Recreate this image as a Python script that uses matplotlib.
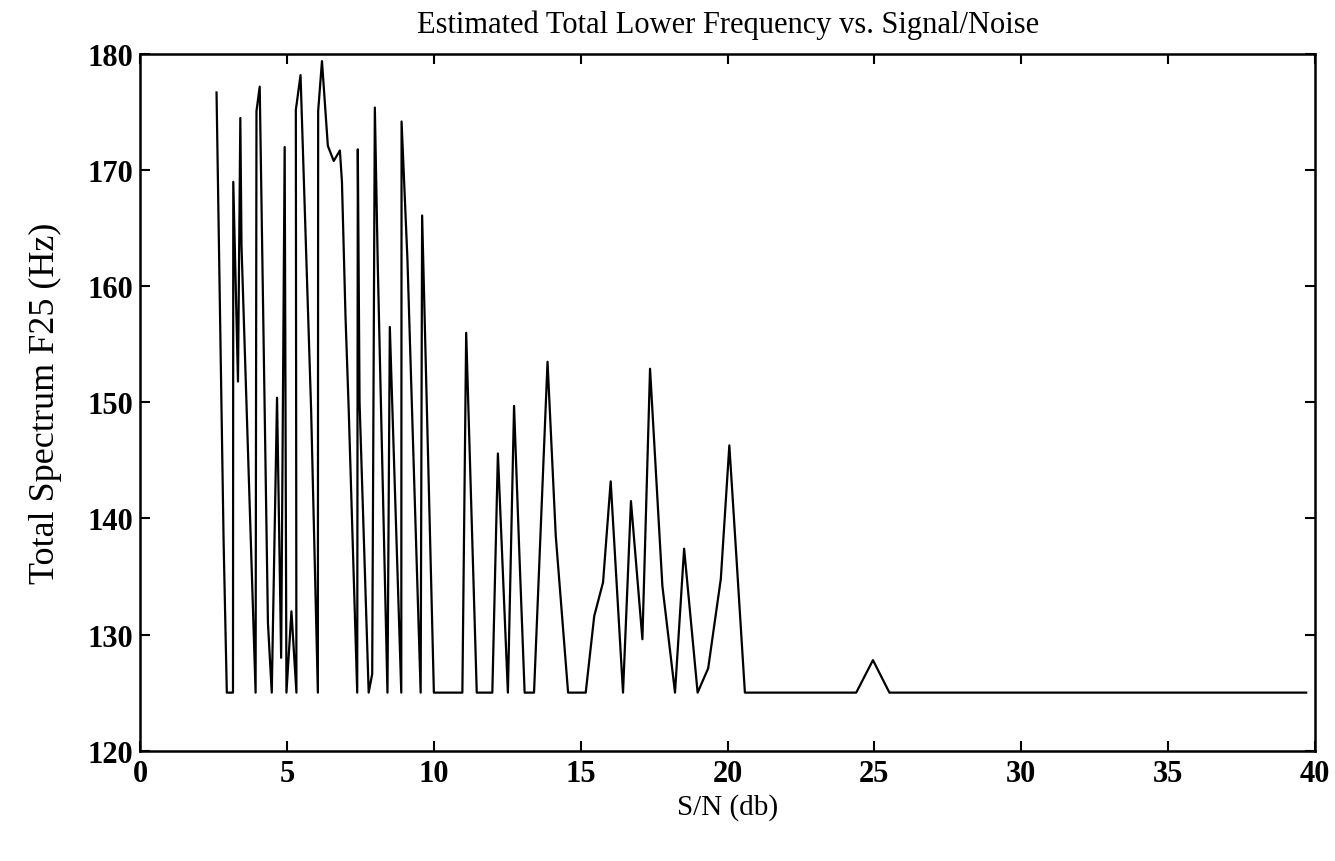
import matplotlib
matplotlib.use("Agg")
import matplotlib.pyplot as plt

# S/N (db) and estimated total lower frequency (Hz)
snr = [2.60, 2.84, 2.95, 3.16, 3.17, 3.33, 3.41, 3.45, 3.93,
       3.96, 4.07, 4.35, 4.48, 4.66, 4.80, 4.92, 4.98, 5.15, 5.32,
       5.30, 5.46, 5.82, 6.05, 6.06, 6.19, 6.39, 6.59, 6.80, 6.87,
       6.99, 7.10, 7.39, 7.41, 7.47, 7.78, 7.90, 7.99, 8.09, 8.42,
       8.50, 8.89, 8.90, 9.10, 9.55, 9.60, 10.00, 10.97, 11.10, 11.46,
       11.99, 12.18, 12.52, 12.73, 12.90, 13.09, 13.41, 13.87, 14.15, 14.57,
       15.17, 15.46, 15.76, 16.02, 16.44, 16.71, 17.10, 17.36, 17.78, 18.21,
       18.52, 18.98, 19.34, 19.77, 20.06, 20.29, 20.59, 24.38, 24.95, 25.51,
       39.70]
f25 = [176.7, 138.1, 125.0, 125.0, 169.0, 151.8, 174.5, 163.5, 125.0,
       175.1, 177.2, 131.0, 125.0, 150.4, 128.0, 172.0, 125.0, 132.0, 125.0,
       175.2, 178.2, 149.4, 125.0, 175.1, 179.4, 172.1, 170.8, 171.7, 169.0,
       157.5, 149.4, 125.0, 171.8, 150.0, 125.0, 126.6, 175.4, 161.8, 125.0,
       156.5, 125.0, 174.2, 162.3, 125.0, 166.1, 125.0, 125.0, 156.0, 125.0,
       125.0, 145.6, 125.0, 149.7, 137.7, 125.0, 125.0, 153.5, 138.5, 125.0,
       125.0, 131.6, 134.5, 143.2, 125.0, 141.5, 129.6, 152.9, 134.2, 125.0,
       137.4, 125.0, 127.1, 134.8, 146.3, 137.1, 125.0, 125.0, 127.8, 125.0,
       125.0]

xticks = [0, 5, 10, 15, 20, 25, 30, 35, 40]
yticks = [120, 130, 140, 150, 160, 170, 180]

plt.rcParams['font.family'] = ['Liberation Serif', 'DejaVu Serif']

fig = plt.figure(figsize=(13.35, 8.62), dpi=100)
ax = fig.add_axes([0.105, 0.128, 0.880, 0.808])

ax.plot(snr, f25, color='black', linewidth=1.6)

ax.set_xlim(0, 40)
ax.set_ylim(120, 180)
ax.set_xticks(xticks)
ax.set_yticks(yticks)
ax.tick_params(direction='in', top=True, right=True, length=7, width=1.5,
               labelsize=22)
ax.tick_params(axis='x', pad=6)
ax.tick_params(axis='y', pad=5)
for lab in ax.get_xticklabels() + ax.get_yticklabels():
    lab.set_fontweight('bold')
for s in ax.spines.values():
    s.set_linewidth(1.8)

ax.set_title('Estimated Total Lower Frequency vs. Signal/Noise', fontsize=22, pad=16)
ax.set_xlabel('S/N (db)', fontsize=21, labelpad=4)
ax.set_ylabel('Total Spectrum F25 (Hz)', fontsize=26, labelpad=18)

fig.savefig('out.png', dpi=100)
